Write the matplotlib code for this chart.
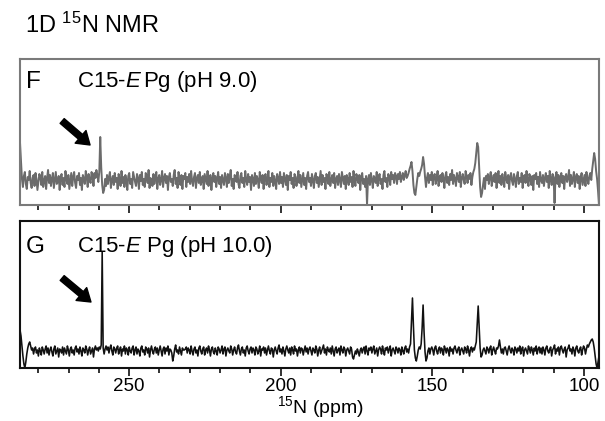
import numpy as np
import matplotlib.pyplot as plt
from matplotlib.ticker import MultipleLocator

plt.rcParams['font.family'] = ['Liberation Sans', 'DejaVu Sans']
plt.rcParams['mathtext.fontset'] = 'custom'
plt.rcParams['mathtext.rm'] = 'Liberation Sans'
plt.rcParams['mathtext.it'] = 'Liberation Sans:italic'

# chemical shift range (ppm), high to low
ppm_start = 286
ppm_end = 95

# panel F: C15-E Pg pH 9.0 (intensity, baseline = 0)
spec_F = [
    38, 20, 2, -6, 5, 9, -3, -8, 4, 1, 10, -2, -7, 3, 6, -5, 8, 2, -9, -1, 7, 4, -4, 9, -6, 0, 5, -8, 3, 11,
    -2, 6, -5, 2, 8, -7, 1, 9, -3, -1, 5, -9, 4, 7, -4, 3, -6, 10, 2, -3, 6, -8, 0, 8, -5, 4, 9, -2, -7, 5,
    1, 8, -4, 3, -9, 6, 2, -3, 10, 4, -6, 7, 1, -2, 9, 5, -5, 8, 3, 11, 6, -1, 9, 44, 14, -4, -12, -9, 2, -5,
    6, -3, 4, 9, -7, 1, 5, -4, 8, -1, 3, -8, 7, 2, -5, 10, -2, 4, -6, 6, 1, -9, 5, 8, -3, 2, -7, 9, 4, -1,
    -5, 7, 3, -8, 6, 0, 9, -4, 2, -6, 8, 5, -2, 11, -7, 3, 1, -5, 7, -3, 4, 9, -8, 2, 6, -4, 1, 10, -6, 3,
    7, -2, 5, -9, 4, 8, -1, 2, -5, 6, 11, -3, 3, -7, 9, 1, -4, 6, -8, 5, 2, 8, -6, 4, -1, 7, -3, 10, 0, -5,
    4, 8, -7, 3, 6, -2, 9, -4, 1, 5, -8, 7, 2, -3, 10, -5, 4, 6, -9, 3, 8, -1, 5, -6, 2, 9, -3, 4, -7, 6,
    1, -4, 8, 3, -6, 7, -2, 5, 11, -5, 2, -8, 6, 4, -1, 9, -3, -7, 5, 8, -2, 3, -6, 10, 1, -4, 7, -1, 4, -9,
    6, 2, -5, 8, -3, 5, 1, -7, 9, 3, -2, 6, -8, 4, 7, -4, 2, 10, -6, 3, -1, 8, -5, 5, 0, -8, 7, 3, -3, 9,
    -2, 4, -6, 8, 2, -4, 6, -9, 5, 1, 9, -3, 3, -7, 7, 4, -5, 2, 10, -2, 6, -6, 1, 8, -4, 3, -8, 5, 9, -1,
    3, -5, 7, 1, -7, 5, 8, -2, 4, -6, 2, 10, -4, 6, -1, 3, -8, 7, 4, -3, 9, -5, 1, 6, -2, 8, -7, 2, 5, -4,
    7, 1, -6, 9, 3, -3, 5, -8, 6, 2, -4, 8, -1, 4, -6, 10, 0, -5, 7, 3, -2, 6, -9, 4, 8, -3, 2, -6, 5, -24,
    2, 6, -4, 8, 1, -7, 5, 3, -2, 9, -5, 4, 7, -3, 2, -8, 6, 10, -1, 3, -6, 7, 4, -4, 9, 2, 6, -2, 8, 5,
    -3, 7, 2, 9, -1, 4, 8, 1, 6, 10, 3, 5, 8, 12, 15, 19, 10, -4, -12, -14, -6, 2, 8, 5, 9, 12, 16, 24, 17, 4,
    -6, 3, 8, -2, 6, 1, 9, -4, 5, 7, -3, 2, 10, -5, 4, 6, -1, 8, 3, -7, 5, 9, -2, 4, -4, 7, 1, 11, -3, 6,
    2, -5, 8, 4, -1, 9, -6, 3, 7, 1, -3, 10, 5, -2, 6, 2, 8, -4, 4, 9, 12, 18, 28, 38, 34, 14, -6, -16, -12, -4,
    3, -8, 5, 1, 7, -3, 4, 9, -5, 2, 6, -1, 8, -7, 3, 10, -2, 5, -4, 7, 1, -6, 9, 3, -2, 6, -8, 4, 8, 0,
    -4, 7, 2, -6, 5, 9, -3, 3, -1, 8, -7, 4, 6, -2, 10, 1, -5, 7, 3, -4, 5, -9, 6, 2, 8, -3, 4, -6, 9, 1,
    -2, 6, -5, 3, 8, -1, 5, -7, 10, 2, -4, 7, 3, -22, 4, 9, -3, 6, -6, 2, 8, -2, 5, -8, 4, 7, -1, 3, 11, -5,
    6, -3, 2, 9, -6, 4, 7, -2, 5, -8, 3, 8, -4, 1, 6, -5, 9, 2, -3, 5, 8, 1, 12, 20, 28, 22, 10, 2, -10, -24,
]

# panel G: C15-E Pg pH 10.0
spec_G = [
    22, 16, 6, -4, -12, -16, -10, -2, 4, 8, 10, 6, 2, 4, -2, 3, 5, -1, 2, -4, 4, 1, -3, 5, 2, -2, 3, 6, -1, 4,
    -3, 2, 5, 0, -4, 3, 6, -2, 1, 4, -5, 3, 2, -1, 5, -3, 4, 1, -2, 6, 2, -4, 3, 5, -1, 2, -3, 4, 6, 0,
    3, -2, 5, 1, -4, 4, 2, -1, 6, 3, -3, 2, 5, -2, 1, 4, -5, 3, 6, 2, 4, 1, 5, 3, 7, 100, 4, -2, 3, 6,
    2, 5, -1, 4, 7, 1, -3, 5, 3, -1, 4, 6, -2, 2, 5, -4, 3, 1, 6, -2, 4, 2, -3, 5, 1, -1, 4, 6, -3, 2,
    5, -2, 3, 1, -4, 4, 6, 0, 2, -3, 5, 3, -1, 4, -5, 2, 6, 1, -2, 3, 5, -1, 4, -3, 2, 6, 1, -4, 3, 5,
    -2, 4, 1, 6, -3, 3, 2, -1, -9, -4, 3, 7, 0, 2, -2, 5, 1, -3, 4, 2, 2, 3, 5, -1, 4, 2, -2, 6, 1, -3,
    3, 5, -1, 2, -4, 4, 6, 1, -2, 3, 5, -3, 2, 4, -1, 6, 2, -4, 3, 5, 0, -2, 4, 1, -3, 5, 3, -1, 2, 6,
    -2, 3, 5, -4, 2, 4, 1, -1, 6, 3, -3, 2, 5, 0, -2, 4, 7, 1, -3, 3, 5, -1, 2, -4, 4, 6, 1, -2, 3, 5,
    -1, 4, 2, -3, 5, 3, -2, 1, 6, -4, 3, 2, 5, -1, 4, -3, 2, 6, 1, -2, 4, 3, -5, 2, 5, 1, -2, 4, 7, 0,
    3, -2, 5, 1, -4, 3, 6, 2, -1, 4, -3, 5, 2, -2, 6, 1, 3, -4, 2, 5, -1, 4, 3, -3, 2, 6, 0, 4, -2, 3,
    5, 1, -3, 4, 2, -1, 6, 3, -4, 2, 5, -2, 1, 4, 7, -1, 3, -3, 5, 2, 0, 4, -2, 6, 1, -4, 3, 5, -1, 2,
    4, -3, 6, 2, -1, 5, 3, -4, 2, 4, 1, -2, 5, 3, -5, -7, -3, 1, -2, 3, 0, -4, 2, 4, -1, 3, 5, -2, 6, 1,
    -3, 4, 2, 5, -1, 3, 6, -2, 1, 4, -4, 2, 5, 3, -2, 6, 1, -3, 4, 2, 5, -1, 3, 6, -4, 2, 4, 1, -2, 5,
    3, -1, 4, 2, -3, 5, 1, -2, 4, 6, 0, 3, -1, 5, 8, 30, 54, 26, 2, -6, -9, -4, 2, 5, 3, 8, 24, 47, 20, 0,
    -9, -6, 1, 4, -2, 3, 5, 2, -3, 4, 6, 1, -2, 3, 5, -1, 4, 2, -3, 6, 3, -1, 4, 2, -4, 5, 1, 3, -2, 4,
    6, 2, -1, 3, 5, -3, 2, 4, 1, -2, 5, 3, -1, 6, 2, -4, 3, 5, 0, 4, 2, 6, 10, 28, 46, 26, 4, -5, -3, 2,
    4, 1, -2, 5, 3, -1, 4, 6, -3, 2, 5, 1, -2, 4, 3, 6, 12, 5, -1, 3, -2, 4, 5, 1, -3, 3, 6, 2, -1, 4,
    2, -3, 5, 3, -1, 4, 1, 6, -2, 3, 5, -4, 2, 4, 1, -2, 6, 3, -1, 5, 2, -3, 4, 1, 6, -2, 3, 5, -1, 4,
    -2, 5, 2, -3, 4, 6, 1, -1, 3, 5, -4, 2, 4, 7, -2, 3, 1, 5, -3, 4, 6, 2, -1, 3, 5, -5, 2, 4, 7, 1,
    3, -2, 5, 2, -4, 4, 6, 1, -1, 3, 5, -3, 2, 6, 4, -2, 3, 7, 5, 8, 10, 12, 13, 10, 4, -4, -12, -16, -10, -4,
]

fig = plt.figure(figsize=(6.05, 4.21), dpi=100)
axF = fig.add_axes([0.0331, 0.5131, 0.957, 0.3468])
axG = fig.add_axes([0.0331, 0.1259, 0.957, 0.3491])

panels = [
    (axF, spec_F, '#6b6b6b', 1.4, '#7a7a7a', 'F', 'C15-$\\mathit{E}\\,$Pg (pH 9.0)',
     (-24, 122), (0.801, 0.808), (262.9, 36), (272.1, 60)),
    (axG, spec_G, '#111111', 1.15, '#111111', 'G', 'C15-$\\mathit{E}$ Pg (pH 10.0)',
     (-16, 131), (0.782, 0.789), (262.6, 50), (272.1, 74)),
]

for ax, spec, lc, lw, ec, lab, title, ylim, ty, tip, tail in panels:
    ppm = np.linspace(ppm_start, ppm_end, len(spec))
    ax.plot(ppm, spec, color=lc, lw=lw)
    ax.set_xlim(ppm_start, ppm_end)
    ax.set_ylim(*ylim)
    ax.set_yticks([])
    ax.set_xticks([250, 200, 150, 100])
    ax.xaxis.set_minor_locator(MultipleLocator(10))
    ax.tick_params(axis='x', which='major', direction='out', length=6, width=1.3,
                   labelsize=13.5, pad=1.0, color='#222222')
    ax.tick_params(axis='x', which='minor', direction='out', length=3.5, width=1.3,
                   color='#222222')
    for s in ax.spines.values():
        s.set_color(ec)
        s.set_linewidth(1.5)
    ax.text(0.010, ty[0], lab, transform=ax.transAxes, fontsize=17.5, va='baseline')
    ax.text(0.098, ty[1], title, transform=ax.transAxes, fontsize=16, va='baseline')
    ax.annotate('', xy=tip, xytext=tail,
                arrowprops=dict(facecolor='black', edgecolor='black', width=4.5,
                                headwidth=12, headlength=9, shrink=0))

axF.tick_params(labelbottom=False)

fig.text(0.041, 0.921, '1D $\\mathregular{^{15}}$N NMR', fontsize=17, va='baseline')
fig.text(0.529, 0.018, '$\\mathregular{^{15}}$N (ppm)', fontsize=14, va='baseline', ha='center')

plt.savefig('out.png', dpi=100)
